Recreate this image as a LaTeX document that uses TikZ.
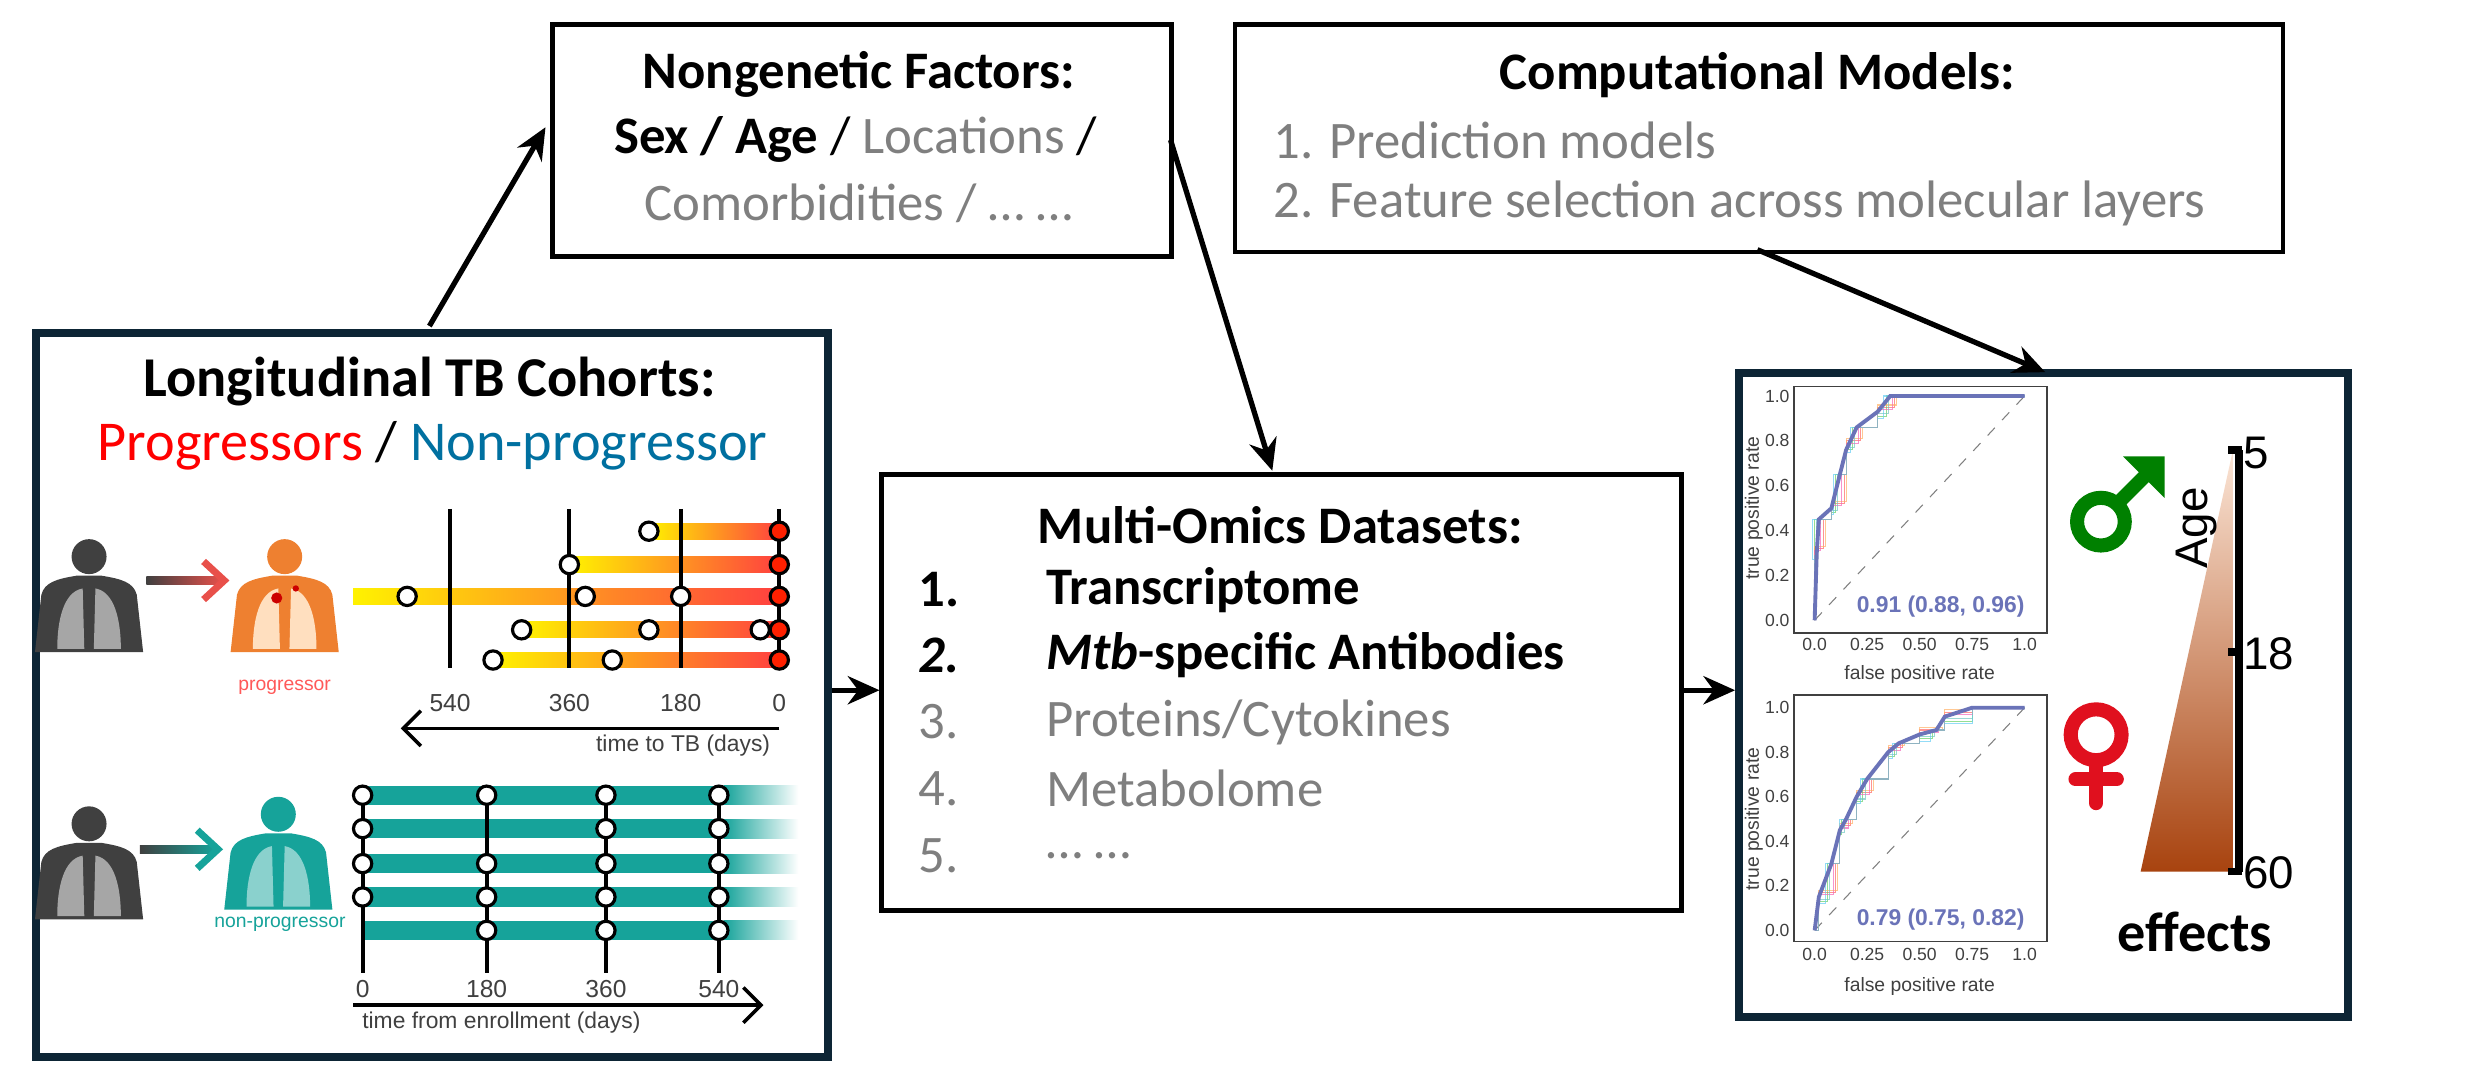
\documentclass[tikz,border=0pt]{standalone}
\usepackage{fontspec}
\setmainfont{Carlito}
\newfontfamily\plotfont{Liberation Sans}
\usetikzlibrary{arrows.meta,shapes.geometric}
\definecolor{gtx}{HTML}{7F7F7F}
\definecolor{dk}{HTML}{0D2535}
\definecolor{nblue}{HTML}{0070A0}
\definecolor{teal}{HTML}{16A39A}
\definecolor{pgray}{HTML}{404040}
\definecolor{lgray}{HTML}{A6A6A6}
\definecolor{porange}{HTML}{EE8030}
\definecolor{aucc}{HTML}{6A73B8}
\definecolor{mgreen}{HTML}{008000}
\definecolor{fred}{HTML}{E0101E}
\definecolor{agetop}{HTML}{FBE5D6}
\definecolor{agemid}{HTML}{E97B3D}
\definecolor{agebot}{HTML}{A8430F}
\definecolor{arrred}{HTML}{E8504A}
\begin{document}
\begin{tikzpicture}[x=0.159mm,y=-0.159mm,
  box/.style={draw=black,line width=1.3pt,fill=white},
  bigbox/.style={draw=dk,line width=2.2pt},
  conn/.style={line width=1.5pt,-{Stealth[length=9pt,width=8pt]}},
  tt/.style={font=\fontsize{15}{18}\selectfont\bfseries},
  tx/.style={font=\fontsize{15}{18}\selectfont},
  circ/.style={circle,draw=black,line width=0.9pt,fill=white,minimum size=5.2pt,inner sep=0pt},
  rcirc/.style={circ,fill=red!75!orange},
  small/.style={font=\plotfont\fontsize{5.5}{6}\selectfont},
  tick/.style={font=\plotfont\fontsize{5}{6}\selectfont,text=pgray,inner sep=1pt},
]
\useasboundingbox (0,0) rectangle (1560,682);
\fill[white] (0,0) rectangle (1560,682);

% ---------- boxes ----------
\node[box,minimum width=389*0.159mm,minimum height=146*0.159mm,anchor=north west] (ng) at (346,14) {};
\node[tt] (ngt) at (540,47) {Nongenetic Factors:};
\node[tx] (ngl1) at (538,88) {\textbf{Sex / Age} / \textcolor{gtx}{Locations} /};
\node[tx,text=gtx] (ngl2) at (540,128) {Comorbidities / … …};

\node[box,minimum width=659*0.159mm,minimum height=143*0.159mm,anchor=north west] (cm) at (775,14) {};
\node[tt] (cmt) at (1105,47) {Computational Models:};
\node[tx,text=gtx,anchor=west] (cml1) at (793,88) {1. Prediction models};
\node[tx,text=gtx,anchor=west] (cml2) at (793,128) {2. Feature selection across molecular layers};

\node[box,minimum width=503*0.159mm,minimum height=274*0.159mm,anchor=north west] (mo) at (553,297) {};
\node[tt] (mot) at (805,330) {Multi-Omics Datasets:};
\node[tt,anchor=west] (mn1) at (570,371) {1.};
\node[tt,anchor=west] (mi1) at (650,371) {Transcriptome};
\node[tt,anchor=west] (mn2) at (570,412) {\itshape 2.};
\node[tt,anchor=west] (mi2) at (650,412) {\itshape Mtb\upshape-specific Antibodies};
\node[tx,text=gtx,anchor=west] (mn3) at (570,454) {3.};
\node[tx,text=gtx,anchor=west] (mi3) at (650,454) {Proteins/Cytokines};
\node[tx,text=gtx,anchor=west] (mn4) at (570,496) {4.};
\node[tx,text=gtx,anchor=west] (mi4) at (650,496) {Metabolome};
\node[tx,text=gtx,anchor=west] (mn5) at (570,538) {5.};
\node[tx,text=gtx,anchor=west] (mi5) at (650,538) {… …};

\node[bigbox,minimum width=498*0.159mm,minimum height=455*0.159mm,anchor=north west] (lb) at (20,207) {};
\node[bigbox,minimum width=383*0.159mm,minimum height=405*0.159mm,anchor=north west] (rb) at (1091,232) {};

% ---------- connectors ----------
\coordinate (a1s) at (270,205);
\coordinate (a1e) at (343,80);
\draw[conn] (a1s) -- (a1e);
\coordinate (a2s) at (736,88);
\coordinate (a2e) at (800,296);
\draw[conn] (a2s) -- (a2e);
\coordinate (a3s) at (1105,157);
\coordinate (a3e) at (1286,234);
\draw[conn] (a3s) -- (a3e);
\draw[conn] (lb.east |- 0,434) -- (mo.west |- 0,434);
\draw[conn] (mo.east |- 0,434) -- (rb.west |- 0,434);

% ---------- left box content ----------
\node[tt,font=\fontsize{16}{19}\selectfont\bfseries] (lt) at (270,240) {Longitudinal TB Cohorts:};
\node[tx,font=\fontsize{16}{19}\selectfont] (lt2) at (272,280) {\textcolor{red}{Progressors} / \textcolor{nblue}{Non-progressor}};

% person pics
\tikzset{pics/person/.style args={#1/#2}{code={
  \fill[#1] (0,-30) circle (11);
  \fill[#1] (-34,30) -- (-30,-6) .. controls (-28,-14) and (-20,-16) .. (-8,-18) -- (8,-18) .. controls (20,-16) and (28,-14) .. (30,-6) -- (34,30) -- cycle;
  \fill[#2] (-4,-10) .. controls (-16,-8) and (-20,10) .. (-20,28) -- (-3,28) -- cycle;
  \fill[#2] (4,-10) .. controls (16,-8) and (20,10) .. (20,28) -- (3,28) -- cycle;
}}}
\pic (pg) at (56,380) {person=pgray/lgray};
\pic (po) at (179,380) {person=porange/orange!25};
\fill[red!80!black] (174,376) circle (3.5);
\fill[red!80!black] (186,370) circle (2);
\shade[left color=pgray,right color=arrred] (92,362.5) rectangle (140,367.5);
\coordinate (ar1a) at (128,353); \coordinate (ar1b) at (141,365); \coordinate (ar1c) at (128,377);
\draw[arrred,line width=2pt] (ar1a) -- (ar1b) -- (ar1c);
\node[font=\plotfont\fontsize{5.5}{6}\selectfont,text=red!65] (plab) at (179,432) {progressor};

\pic (pg2) at (56,548) {person=pgray/lgray};
\pic (pt) at (175,542) {person=teal/teal!50};
\shade[left color=pgray,right color=teal] (88,531.5) rectangle (136,536.5);
\coordinate (ar2a) at (124,522); \coordinate (ar2b) at (137,534); \coordinate (ar2c) at (124,546);
\draw[teal,line width=2pt] (ar2a) -- (ar2b) -- (ar2c);
\node[font=\plotfont\fontsize{5.5}{6}\selectfont,text=teal] (nlab) at (176,581) {non-progressor};

% progressor timelines
\foreach \s/\y in {408/334,358/355,222/375,328/396,310/415}{
  \shade[left color=yellow!90!orange,middle color=orange!80,right color=red!75] (\s,\y-5) rectangle (490,\y+5);
}
\foreach \x in {283,358,428,490} \draw[line width=1.1pt] (\x,320) -- (\x,420);
\foreach \x/\y [count=\i] in {408/334,358/355,256/375,368/375,428/375,328/396,408/396,478/396,310/415,385/415}
  \node[circ] (pc\i) at (\x,\y) {};
\foreach \y [count=\i] in {334,355,375,396,415} \node[rcirc] (pr\i) at (490,\y) {};
\foreach \x/\l in {283/540,358/360,428/180,490/0} \node[font=\plotfont\fontsize{7}{8}\selectfont,text=pgray] (pl\l) at (\x,442) {\l};
\coordinate (tta) at (490,458); \coordinate (ttb) at (252,458);
\draw[line width=1pt,-{Straight Barb[length=5pt,width=10pt]}] (tta) -- (ttb);
\node[font=\plotfont\fontsize{6.5}{7}\selectfont,text=pgray,anchor=east] (ttl) at (492,469) {time to TB (days)};

% non-progressor timelines
\foreach \y in {500,521,543,564,585}{
  \fill[teal] (228,\y-6) rectangle (455,\y+6);
  \shade[left color=teal,right color=white] (455,\y-6) rectangle (502,\y+6);
}
\draw[line width=1.1pt] (228,500) -- (228,612);
\draw[line width=1.1pt] (306,500) -- (306,612);
\draw[line width=1.1pt] (381,500) -- (381,612);
\draw[line width=1.1pt] (452,500) -- (452,612);
\foreach \x/\y [count=\i] in {228/500,228/521,228/543,228/564,306/500,306/543,306/564,306/585,381/500,381/521,381/543,381/564,381/585,452/500,452/521,452/543,452/564,452/585}
  \node[circ] (nc\i) at (\x,\y) {};
\foreach \x/\l in {228/0,306/180,381/360,452/540} \node[font=\plotfont\fontsize{7}{8}\selectfont,text=pgray] (nl\l) at (\x,622) {\l};
\coordinate (tea) at (222,632); \coordinate (teb) at (480,632);
\draw[line width=1pt,-{Straight Barb[length=5pt,width=10pt]}] (tea) -- (teb);
\node[font=\plotfont\fontsize{6.5}{7}\selectfont,text=pgray,anchor=west] (tel) at (220,643) {time from enrollment (days)};

% ---------- ROC plots ----------
\draw[pgray,line width=0.5pt] (1128,243) rectangle (1287,398);
\draw[pgray,line width=0.5pt] (1128,437) rectangle (1287,592);
\begin{scope}[shift={(1141,390)},x={(132*0.159mm,0)},y={(0,141*0.159mm)}]
  \draw[gray,dashed,line width=0.3pt] (0,0) -- (1,1);
  \foreach \c/\d in {red/0.02,green!70!black/-0.02,orange/0.03,cyan/-0.03,magenta/0.01,teal/-0.01}{
    \draw[\c!60,line width=0.3pt,opacity=0.7] (0,0) -- (0,0.3+\d) -| (0.02+\d,0.45) -| (0.08,0.5+\d) -| (0.12+\d,0.65) -| (0.15,0.78+\d) -| (0.2+\d,0.86) -| (0.3,0.93+\d) -| (0.36+\d,1) -- (1,1);
  }
  \draw[aucc,line width=1.1pt] (0,0) -- (0.01,0.3) -- (0.02,0.45) -- (0.08,0.5) -- (0.12,0.65) -- (0.15,0.76) -- (0.2,0.86) -- (0.3,0.93) -- (0.36,1) -- (1,1);
  \foreach \v in {0.0,0.2,0.4,0.6,0.8,1.0} \node[tick,anchor=east] (y1\v) at (-0.1,\v) {\v};
  \foreach \v in {0.0,0.25,0.50,0.75,1.0} \node[tick,anchor=north] (x1\v) at (\v,-0.06) {\v};
  \node[small,text=pgray] (xl1) at (0.5,-0.24) {false positive rate};
  \node[small,text=pgray,rotate=90] (yl1) at (-0.29,0.5) {true positive rate};
  \node[font=\plotfont\fontsize{6.5}{7}\selectfont\bfseries,text=aucc] (auc1) at (0.6,0.06) {0.91 (0.88, 0.96)};
\end{scope}
\begin{scope}[shift={(1141,585)},x={(132*0.159mm,0)},y={(0,140*0.159mm)}]
  \draw[gray,dashed,line width=0.3pt] (0,0) -- (1,1);
  \foreach \c/\d in {red/0.02,green!70!black/-0.02,orange/0.03,cyan/-0.03,magenta/0.01,teal/-0.01}{
    \draw[\c!60,line width=0.3pt,opacity=0.7] (0,0) -| (0.02,0.15+\d) -| (0.08+\d,0.3) -| (0.12,0.45+\d) -| (0.15+\d,0.5) -| (0.2,0.6+\d) -| (0.25+\d,0.68) -| (0.35,0.8+\d) -| (0.4+\d,0.84) -| (0.5,0.88+\d) -| (0.58+\d,0.9) -| (0.62,0.96+\d) -| (0.75,1) -- (1,1);
  }
  \draw[aucc,line width=1.1pt] (0,0) -- (0.02,0.15) -- (0.08,0.3) -- (0.12,0.45) -- (0.15,0.5) -- (0.2,0.6) -- (0.25,0.68) -- (0.35,0.8) -- (0.4,0.84) -- (0.5,0.88) -- (0.58,0.9) -- (0.62,0.96) -- (0.75,1) -- (1,1);
  \foreach \v in {0.0,0.2,0.4,0.6,0.8,1.0} \node[tick,anchor=east] (y2\v) at (-0.1,\v) {\v};
  \foreach \v in {0.0,0.25,0.50,0.75,1.0} \node[tick,anchor=north] (x2\v) at (\v,-0.06) {\v};
  \node[small,text=pgray] (xl2) at (0.5,-0.25) {false positive rate};
  \node[small,text=pgray,rotate=90] (yl2) at (-0.29,0.5) {true positive rate};
  \node[font=\plotfont\fontsize{6.5}{7}\selectfont\bfseries,text=aucc] (auc2) at (0.6,0.05) {0.79 (0.75, 0.82)};
\end{scope}

% sex symbols
\draw[mgreen,line width=4pt] (1321,328) circle (15);
\draw[mgreen,line width=4pt] (1332,316) -- (1352,296);
\fill[mgreen] (1361,287) -- (1361,313) -- (1335,287) -- cycle;
\draw[fred,line width=4pt] (1318,462) circle (16);
\draw[fred,line width=4pt,line cap=round] (1318,478) -- (1318,505);
\draw[fred,line width=4pt,line cap=round] (1305,490) -- (1331,490);

% age gradient
\shade[top color=agetop,middle color=agemid,bottom color=agebot] (1404,283) -- (1404,548) -- (1346,548) -- cycle;
\draw[line width=2.2pt] (1408,283) -- (1408,548);
\foreach \y in {283,410,548} \draw[line width=2.2pt] (1401,\y) -- (1410,\y);
\node[font=\plotfont\fontsize{13}{14}\selectfont,anchor=west,inner sep=0pt] (a5) at (1410,285) {5};
\node[font=\plotfont\fontsize{13}{14}\selectfont,anchor=west,inner sep=0pt] (a18) at (1410,411) {18};
\node[font=\plotfont\fontsize{13}{14}\selectfont,anchor=west,inner sep=0pt] (a60) at (1410,549) {60};
\node[font=\plotfont\fontsize{13}{14}\selectfont,rotate=90] (age) at (1381,332) {Age};
\node[tt,font=\fontsize{16}{19}\selectfont\bfseries] (eff) at (1380,586) {effects};
\end{tikzpicture}
\end{document}
